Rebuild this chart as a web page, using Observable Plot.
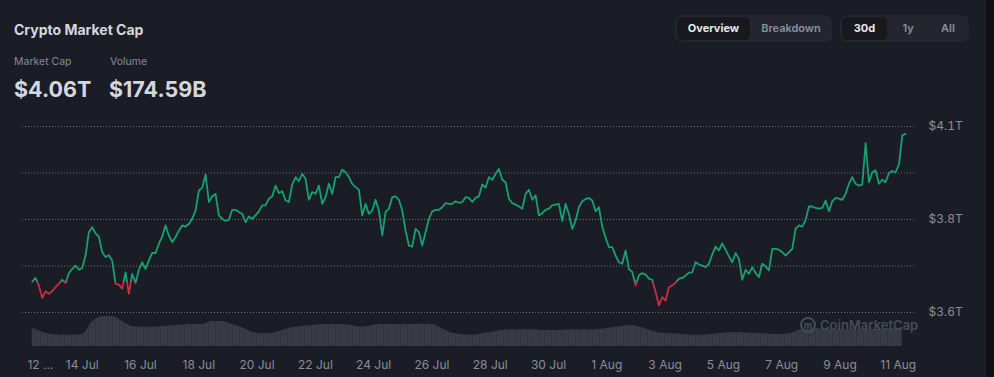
<!DOCTYPE html>
<html><head><meta charset="utf-8">
<script src="https://cdn.jsdelivr.net/npm/d3@7"></script>
<script src="https://cdn.jsdelivr.net/npm/@observablehq/plot@0.6"></script>
<style>
html,body{margin:0;padding:0;background:#0e1016;}
#wrap{position:relative;width:994px;height:377px;overflow:hidden;background:#1b1d26;font-family:Inter,"Noto Sans",sans-serif;}
#edge{position:absolute;left:986px;top:0;width:8px;height:377px;background:#0e1016;}
.title{position:absolute;left:14px;top:21px;font-size:14px;font-weight:700;color:#d5d7dd;white-space:nowrap;}
.lbl{position:absolute;top:55px;font-size:10.5px;color:#858a97;white-space:nowrap;}
.val{position:absolute;top:76px;font-size:21.5px;font-weight:700;color:#d5d7dd;white-space:nowrap;}
.grp{position:absolute;top:15px;height:27px;background:#23262f;border-radius:7px;}
.tab{position:absolute;top:2px;height:23px;line-height:23px;font-size:11px;font-weight:600;color:#8a8f9c;text-align:center;border-radius:5px;}
.tab.on{background:#17191f;color:#e6e7ea;font-weight:700;}
.chart{position:absolute;left:0;top:110px;}
.wm{position:absolute;left:800px;top:316px;height:17px;display:flex;align-items:center;color:#474b57;font-size:13px;font-weight:600;white-space:nowrap;}
.wm .logo{width:12px;height:12px;border:2px solid #474b57;border-radius:50%;margin-right:4px;font-size:9px;line-height:12px;text-align:center;font-weight:800;}
</style>
</head>
<body>
<div id="wrap">
  <div class="title">Crypto Market Cap</div>
  <div class="lbl" style="left:14px">Market Cap</div>
  <div class="lbl" style="left:110px">Volume</div>
  <div class="val" style="left:14px">$4.06T</div>
  <div class="val" style="left:109px">$174.59B</div>
  <div class="grp" style="left:675px;width:157px">
    <div class="tab on" style="left:2px;width:73px">Overview</div>
    <div class="tab" style="left:80px;width:72px">Breakdown</div>
  </div>
  <div class="grp" style="left:840px;width:129px">
    <div class="tab on" style="left:2px;width:45px">30d</div>
    <div class="tab" style="left:52px;width:32px">1y</div>
    <div class="tab" style="left:90px;width:36px">All</div>
  </div>
  <div id="volchart" class="chart"></div>
  <div id="capchart" class="chart"></div>
  <div class="wm"><span class="logo">m</span>CoinMarketCap</div>
  <div id="edge"></div>
</div>
<script>
// ---- data ----
// market cap in trillions USD, sampled every ~164.7 minutes from 12 Jul 06:50 UTC
const capValues = [
3.682,3.693,3.673,3.639,3.657,3.650,3.657,3.668,3.677,3.688,
3.679,3.706,3.717,3.726,3.715,3.720,3.753,3.816,3.829,3.813,
3.804,3.762,3.749,3.754,3.740,3.677,3.675,3.664,3.708,3.650,
3.704,3.679,3.715,3.735,3.717,3.740,3.760,3.760,3.785,3.804,
3.834,3.807,3.789,3.803,3.820,3.834,3.831,3.838,3.852,3.874,
3.928,3.935,3.971,3.897,3.912,3.919,3.861,3.852,3.846,3.849,
3.876,3.876,3.870,3.865,3.843,3.858,
3.852,3.861,3.872,3.888,3.888,3.906,3.912,3.941,3.921,3.926,
3.901,3.897,3.944,3.964,3.953,3.973,3.959,3.903,3.924,3.919,
3.941,3.892,3.910,3.946,3.919,3.964,3.964,3.984,3.977,3.964,
3.946,3.937,3.930,3.861,3.892,3.865,3.874,3.903,3.874,3.807,
3.870,3.879,3.910,3.912,3.903,3.874,3.820,3.780,3.777,3.825,
3.816,3.780,3.816,3.852,3.872,3.876,3.876,3.883,3.894,3.892,
3.892,3.899,3.895,3.897,3.910,3.908,
3.897,3.908,3.912,3.944,3.936,3.964,3.957,3.973,3.986,3.957,
3.950,3.906,3.894,3.890,3.885,3.879,3.919,3.930,3.903,3.915,
3.861,3.867,3.876,3.879,3.888,3.890,3.892,3.846,3.892,3.865,
3.825,3.847,3.883,3.899,3.905,3.908,3.901,3.872,3.883,3.831,
3.801,3.776,3.776,3.753,3.735,3.731,3.767,3.717,3.709,3.673,
3.700,3.706,3.702,3.691,3.688,3.655,3.619,3.641,3.632,3.668,
3.673,3.680,3.691,3.693,3.699,3.707,
3.708,3.735,3.729,3.726,3.722,3.731,3.756,3.777,3.767,3.786,
3.769,3.751,3.735,3.760,3.744,3.688,3.715,3.704,3.722,3.706,
3.695,3.731,3.724,3.713,3.771,3.771,3.769,3.762,3.753,3.762,
3.771,3.825,3.834,3.831,3.849,3.885,3.885,3.881,3.879,3.881,
3.901,3.872,3.899,3.908,3.906,3.903,3.919,3.946,3.964,3.946,
3.941,3.944,4.055,3.950,3.977,3.982,3.946,3.957,3.950,3.975,
3.980,3.977,3.998,4.076,4.080
];
// 24h volume in billions USD, sampled every third market-cap sample
const volumeValues = [
187,143,120,113,113,120,243,300,300,253,
200,193,193,200,207,213,220,220,250,250,
220,187,143,127,133,160,187,200,210,217,
220,220,210,193,210,220,220,217,220,223,
220,177,133,120,113,127,143,160,167,167,
167,160,160,163,167,167,167,173,187,203,
210,187,153,133,127,120,113,113,120,133,
137,137,133,127,123,120,133,173,180,173,
170,167,163,167,170,173,177,175
];
const startTime = Date.UTC(2025, 6, 12, 6, 50);
const stepMinutes = 164.7;
const xDomain = ["2025-07-12", "2025-08-11"];
const xTickDates = ["2025-07-12","2025-07-14","2025-07-16","2025-07-18","2025-07-20","2025-07-22","2025-07-24","2025-07-26","2025-07-28","2025-07-30","2025-08-01","2025-08-03","2025-08-05","2025-08-07","2025-08-09","2025-08-11"];
const xTickLabels = ["12 ...","14 Jul","16 Jul","18 Jul","20 Jul","22 Jul","24 Jul","26 Jul","28 Jul","30 Jul","1 Aug","3 Aug","5 Aug","7 Aug","9 Aug","11 Aug"];
const yGridTicks = [3.6, 3.725, 3.85, 3.975, 4.1];
const yLabelTicks = [3.6, 3.85, 4.1];
const yTickLabels = ["$3.6T", "$3.8T", "$4.1T"];

// ---- tables built from the arrays ----
const cap = capValues.map((v, i) => ({t: new Date(startTime + i * stepMinutes * 60000), v}));
const vol = volumeValues.map((v, j) => ({t: new Date(startTime + j * 3 * stepMinutes * 60000), v}));
const xTicks = xTickDates.map((d, i) => ({t: new Date(d), label: xTickLabels[i]}));
const yLabelOf = new Map(yLabelTicks.map((d, i) => [d, yTickLabels[i]]));
const baseline = capValues[0];

const W = 994, H = 267;
const xScale = {type: "utc", domain: xDomain.map(d => new Date(d)), range: [23.4, 897.8]};
const common = {width: W, height: H, marginLeft: 22, marginRight: 78, marginTop: 16, marginBottom: 31,
  style: {background: "transparent", color: "#8a8e98", fontFamily: "Inter, 'Noto Sans', sans-serif", fontSize: "12px", overflow: "visible"}};

// volume + x axis
const volPlot = Plot.plot({
  ...common,
  x: {...xScale, axis: null},
  y: {domain: [0, 340], range: [236, 202], axis: null},
  marks: [
    Plot.areaY(vol, {x: "t", y: "v", fill: "url(#volStripes)", curve: "monotone-x"}),
    Plot.text(xTicks.slice(0, 1), {x: "t", text: "label", frameAnchor: "bottom", dy: 19, dx: 3.5, lineAnchor: "middle", textAnchor: "start", fill: "#8a8e98"}),
    Plot.text(xTicks.slice(1), {x: "t", text: "label", frameAnchor: "bottom", dy: 19, lineAnchor: "middle", fill: "#8a8e98"})
  ]
});
{
  const s = d3.select(volPlot);
  const defs = s.insert("defs", ":first-child");
  const pat = defs.append("pattern").attr("id", "volStripes").attr("patternUnits", "userSpaceOnUse").attr("width", 2.4).attr("height", 10);
  pat.append("rect").attr("width", 2.4).attr("height", 10).attr("fill", "#2e3139");
  pat.append("rect").attr("width", 1.6).attr("height", 10).attr("fill", "#3b3e49");
}
document.getElementById("volchart").append(volPlot);

// market cap line + grid + y axis
const capPlot = Plot.plot({
  ...common,
  x: {...xScale, axis: null},
  y: {domain: [3.6, 4.1], range: [202, 16], label: null},
  marks: [
    Plot.ruleY(yGridTicks, {stroke: "#6a6e79", strokeDasharray: "1,2", strokeWidth: 1}),
    Plot.axisY(yLabelTicks, {anchor: "right", label: null, tickSize: 0, tickPadding: 12, tickFormat: d => yLabelOf.get(d), fill: "#8a8e98", fontSize: 12}),
    Plot.line(cap, {x: "t", y: "v", stroke: "#17a071", strokeWidth: 1.8}),
    Plot.line(cap, {x: "t", y: "v", stroke: "#c72f3b", strokeWidth: 1.8})
  ]
});
{
  const s = d3.select(capPlot);
  const yb = capPlot.scale("y").apply(baseline);
  const defs = s.insert("defs", ":first-child");
  defs.append("clipPath").attr("id", "clipUp").append("rect").attr("x", 0).attr("y", -20).attr("width", W).attr("height", yb + 20);
  defs.append("clipPath").attr("id", "clipDown").append("rect").attr("x", 0).attr("y", yb).attr("width", W).attr("height", 400);
  const lines = s.selectAll('g[aria-label="line"]').nodes();
  d3.select(lines[0]).attr("clip-path", "url(#clipUp)");
  d3.select(lines[1]).attr("clip-path", "url(#clipDown)");
}
document.getElementById("capchart").append(capPlot);
</script>
</body></html>
